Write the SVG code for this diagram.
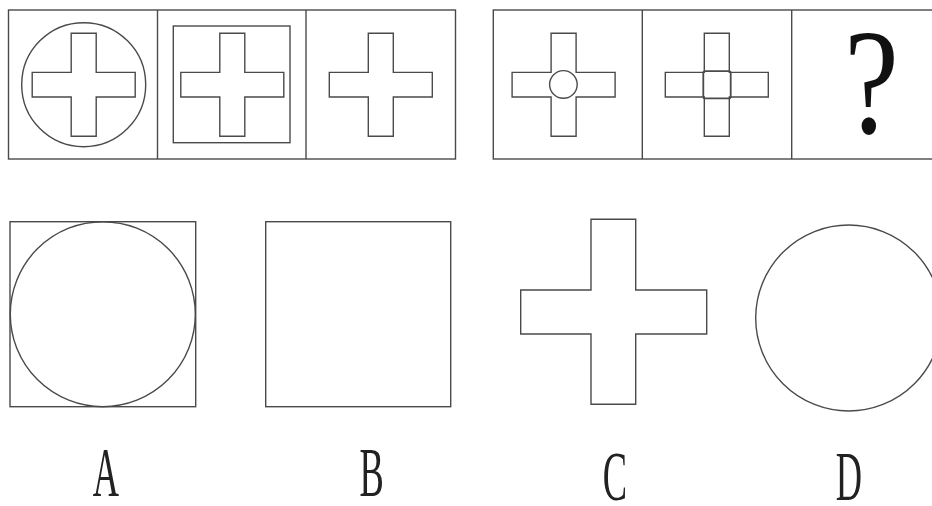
<svg xmlns="http://www.w3.org/2000/svg" width="932" height="506" viewBox="0 0 932 506">
<style>
.s{fill:none;stroke:#4a4a4a;stroke-width:1.4}
.t{fill:#222;font-family:"Liberation Serif","DejaVu Serif",serif;font-size:70px;text-anchor:middle}
.q{fill:#111;font-family:"Liberation Serif","DejaVu Serif",serif;font-size:150px;text-anchor:middle}
</style>
<defs>
<path id="cr" d="M-12.5,-51.5 H12.5 V-12.3 H51.5 V12.3 H12.5 V51.5 H-12.5 V12.3 H-51.5 V-12.3 H-12.5 Z"/>
</defs>
<rect width="932" height="506" fill="#ffffff"/>
<g id="row1">
<rect class="s" x="8.5" y="10" width="447" height="149"/>
<line class="s" x1="157.5" y1="10" x2="157.5" y2="159"/>
<line class="s" x1="306" y1="10" x2="306" y2="159"/>
</g>
<g id="panel1">
<circle class="s" cx="83.7" cy="84.7" r="62"/>
<use href="#cr" class="s" transform="translate(83.7,84.7)"/>
</g>
<g id="panel2">
<rect class="s" x="173.3" y="26" width="116.7" height="116.7"/>
<use href="#cr" class="s" transform="translate(232.3,84.7)"/>
</g>
<g id="panel3">
<use href="#cr" class="s" transform="translate(380.8,84.7)"/>
</g>
<g id="row2">
<rect class="s" x="493.3" y="10" width="460" height="149"/>
<line class="s" x1="642.3" y1="10" x2="642.3" y2="159"/>
<line class="s" x1="791.7" y1="10" x2="791.7" y2="159"/>
</g>
<g id="panel4">
<use href="#cr" class="s" transform="translate(563.6,84.7)"/>
<circle class="s" cx="563.4" cy="84.4" r="13.8" fill="#ffffff"/>
</g>
<g id="panel5">
<use href="#cr" class="s" transform="translate(716.8,84.7)"/>
<rect class="s" x="703.3" y="71.2" width="27.4" height="27.2" rx="2" style="stroke-width:1.8"/>
</g>
<g id="panel6">
<text class="q" transform="translate(871.5,133) scale(0.82,1)">?</text>
</g>
<g id="optA">
<rect class="s" x="10" y="221.7" width="185.7" height="185"/>
<circle class="s" cx="102.8" cy="314.2" r="92.5"/>
<text class="t" transform="translate(105.8,496) scale(0.52,1)">A</text>
</g>
<g id="optB">
<rect class="s" x="265.7" y="221.7" width="185" height="185"/>
<text class="t" transform="translate(371.7,496) scale(0.52,1)">B</text>
</g>
<g id="optC">
<path class="s" d="M591,219.3 H635.7 V290 H706.7 V334 H635.7 V404.3 H591 V334 H520.7 V290 H591 Z"/>
<text class="t" transform="translate(615,500) scale(0.52,1)">C</text>
</g>
<g id="optD">
<circle class="s" cx="848.7" cy="318" r="93"/>
<text class="t" transform="translate(849,500) scale(0.52,1)">D</text>
</g>
<g id="connectors"/>
</svg>
